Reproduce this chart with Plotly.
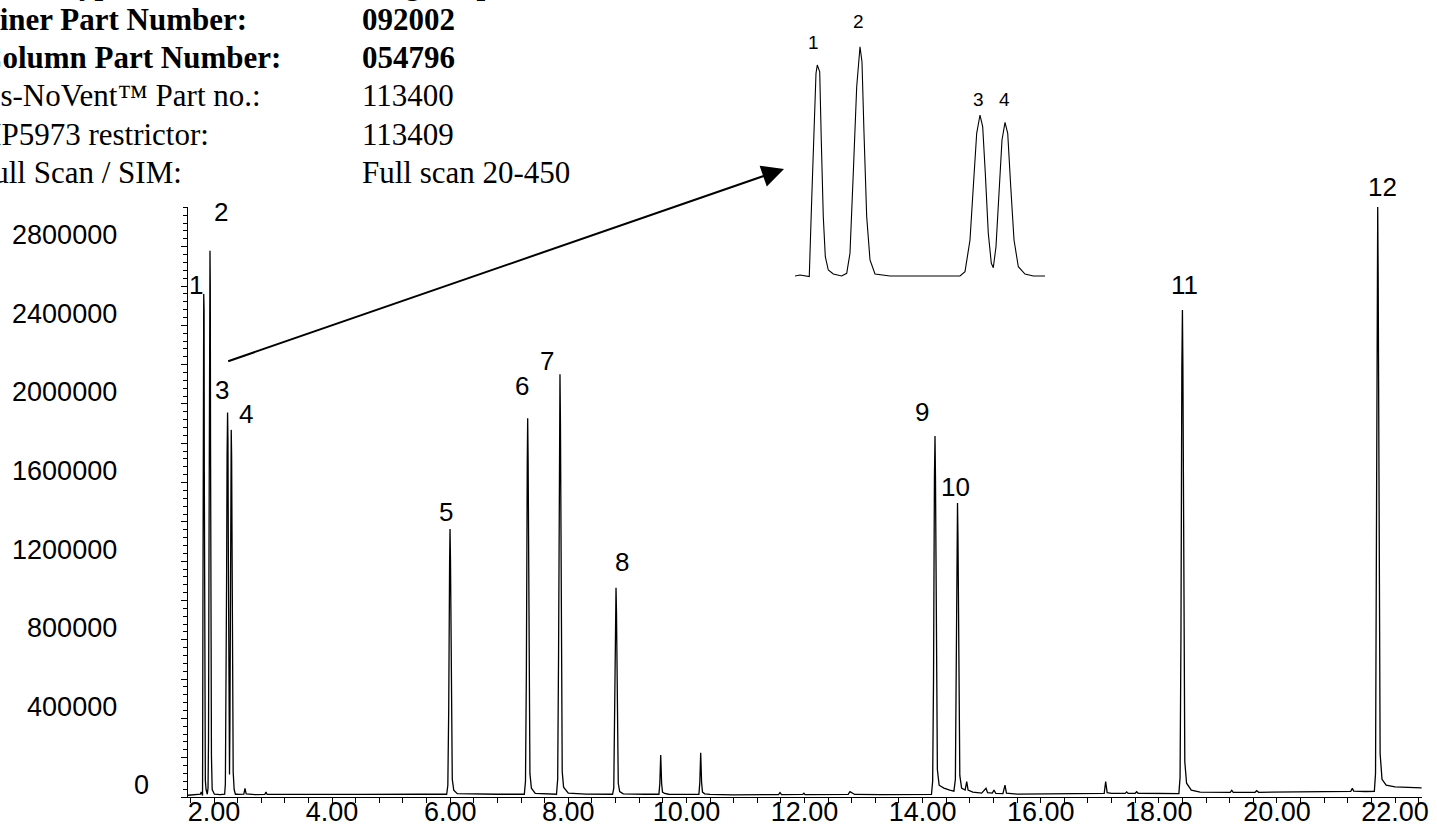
import plotly.graph_objects as go

W, H = 1437, 824

# ---------------- chromatogram (retention time [min], abundance) ----------------
rt = [1.56, 1.62, 1.68, 1.72, 1.7707, 1.7831, 1.795, 1.8061, 1.8121, 1.8178, 1.8228, 1.826,
      1.832, 1.8359, 1.8409, 1.8459, 1.8533, 1.8657, 1.8865, 1.899, 1.9071, 1.9153, 1.9238,
      1.932, 1.9369, 1.9419, 1.9486, 1.9568, 1.9692, 2.0064, 2.1057, 2.1801, 2.1925, 2.2049,
      2.2131, 2.2215, 2.2297, 2.2364, 2.2429, 2.2503, 2.2578, 2.2627, 2.2694, 2.2769, 2.2843,
      2.2918, 2.2985, 2.306, 2.3141, 2.3248, 2.3414, 2.362, 2.391,
      2.42, 2.505, 2.525, 2.545, 2.70, 2.86, 2.88, 2.90, 3.5, 4.5, 5.5,
      5.94, 5.96, 5.975, 5.99, 5.997, 6.005, 6.02, 6.035, 6.06, 6.12,
      6.8, 7.255, 7.275, 7.29, 7.305, 7.312, 7.32, 7.335, 7.35, 7.375, 7.44,
      7.80, 7.82, 7.835, 7.85, 7.859, 7.867, 7.882, 7.897, 7.92, 8.0, 8.3, 8.6,
      8.75, 8.77, 8.785, 8.80, 8.808, 8.816, 8.831, 8.846, 8.87, 8.93, 9.3,
      9.535, 9.55, 9.565, 9.58, 9.595, 9.63, 9.7, 10.0,
      10.212, 10.227, 10.242, 10.257, 10.272, 10.31, 10.4, 10.8, 11.2,
      11.56, 11.585, 11.61, 11.97, 11.99, 12.01, 12.5, 12.74, 12.77, 12.80, 12.85, 13.3, 13.9,
      14.15, 14.17, 14.185, 14.20, 14.21, 14.218, 14.233, 14.25, 14.28, 14.36, 14.46, 14.53,
      14.555, 14.568, 14.582, 14.591, 14.599, 14.614, 14.63, 14.66, 14.72, 14.747, 14.77,
      14.85, 15.0, 15.074, 15.1, 15.18, 15.209, 15.24, 15.36, 15.395, 15.42, 15.6, 16.0,
      16.5, 17.0, 17.075, 17.1, 17.125, 17.2, 17.43, 17.456, 17.48, 17.6, 17.625, 17.65,
      18.0, 18.34, 18.36, 18.375, 18.39, 18.40, 18.408, 18.423, 18.44, 18.47, 18.55, 18.7,
      19.0, 19.21, 19.235, 19.26, 19.63, 19.658, 19.69, 20.2, 20.8, 21.25, 21.277, 21.3,
      21.5, 21.65, 21.67, 21.683, 21.697, 21.707, 21.715, 21.73, 21.748, 21.78, 21.85,
      22.0, 22.2, 22.45]

abund = [9000, 11000, 10000, 12000, 14000, 26000, 20000, 8000, 930800, 1815000, 2459000, 2559000,
         2478000, 1655000, 729000, 247000, 86000, 38000, 14000, 46600, 288000, 1253000, 2298000,
         2780000, 2599000, 1739000, 729000, 207000, 38000, 14000, 12000, 14000, 66000, 448000,
         1091000, 1735000, 1956000, 1815000, 1253000, 529000, 167000, 114000, 367000, 1091000, 1655000,
         1868000, 1735000, 1091000, 448000, 126000, 38000, 14000, 14000,
         13000, 15000, 44000, 16000, 12000, 13000, 25000, 13000, 12000, 13000, 14000,
         14000, 60000, 450000, 1200000, 1364000, 1200000, 450000, 90000, 35000, 17000,
         14000, 14000, 80000, 640000, 1700000, 1927000, 1700000, 640000, 120000, 45000, 18000,
         14000, 90000, 720000, 1900000, 2151000, 1900000, 720000, 130000, 50000, 20000, 15000, 14000,
         14000, 45000, 360000, 940000, 1065000, 940000, 360000, 70000, 28000, 16000, 14000,
         14000, 70000, 214000, 70000, 25000, 18000, 14000, 13000,
         14000, 75000, 225000, 75000, 25000, 16000, 13000, 11000, 12000,
         12000, 22000, 12000, 13000, 19000, 12000, 12000, 13000, 27000, 20000, 13000, 12000, 12000,
         13000, 80000, 600000, 1620000, 1837000, 1620000, 600000, 140000, 60000, 45000, 35000, 30000,
         90000, 500000, 1320000, 1496000, 1320000, 500000, 110000, 45000, 35000, 78000, 35000,
         25000, 20000, 44000, 22000, 20000, 35000, 18000, 17000, 60000, 20000, 15000, 15000,
         16000, 16000, 18000, 78000, 22000, 18000, 18000, 26000, 18000, 19000, 27000, 19000,
         17000, 17000, 100000, 820000, 2180000, 2478000, 2180000, 820000, 180000, 70000, 35000, 25000,
         23000, 24000, 34000, 24000, 24000, 32000, 24000, 25000, 27000, 29000, 44000, 30000,
         28000, 29000, 120000, 990000, 2640000, 3002000, 2640000, 990000, 220000, 90000, 60000,
         52000, 48000, 46000]

# numbered peaks: apex retention time and abundance
peak_ids = ["1", "2", "3", "4", "5", "6", "7", "8", "9", "10", "11", "12"]
peak_rt = [1.826, 1.932, 2.2297, 2.2918, 5.997, 7.312, 7.859, 8.808, 14.21, 14.591, 18.40, 21.707]
peak_top = [2559000, 2780000, 1956000, 1868000, 1364000, 1927000, 2151000, 1065000,
            1837000, 1496000, 2478000, 3002000]
# label offsets from the apex (px, +dy = up)
label_dx = [-8, 11, -6, 15, -4, -6, -13, 6, -13, -2, 2, 5]
label_dy = [9, 39, 23, 16, 17, 32, 13, 26, 24, 16, 25, 20]

# inset labels (offsets from apex, px)
inset_dx = [-4, -2, -1, -1]
inset_dy = [23, 25, 16, 23]

# axes
x_range = [1.5546, 22.457]
y_range = [0, 3003600]
inset_x_range = [1.7707, 2.3910]
inset_y_range = [-34252, 3222758]
y_tick_vals = [0, 200000, 400000, 600000, 800000, 1000000, 1200000, 1400000, 1600000,
               1800000, 2000000, 2200000, 2400000, 2600000, 2800000]
y_tick_text = ["", "", "400000", "", "800000", "", "1200000", "", "1600000", "",
               "2000000", "", "2400000", "", "2800000"]
y_zero_label = "0"

# header table
header_labels = ["Liner Type:", "Liner Part Number:", "Column Part Number:",
                 "Press-NoVent™ Part no.:", "HP5973 restrictor:", "Full Scan / SIM:"]
header_values = ["Single taper", "092002", "054796", "113400", "113409", "Full scan 20-450"]
header_bold = [True, True, True, False, False, False]
header_label_right_px = [138, 249, 283, 263, 211, 184]
header_row_center_px = [-17, 20, 58, 96, 134.5, 173]
header_value_left_px = 359.6

SANS = "Liberation Sans, Arial, sans-serif"
SERIF = "Liberation Serif, Times New Roman, serif"

fig = go.Figure()
fig.add_trace(go.Scatter(x=rt, y=abund, mode="lines", line=dict(color="black", width=1.3),
                         xaxis="x", yaxis="y", hoverinfo="skip"))
fig.add_trace(go.Scatter(x=rt, y=abund, mode="lines", line=dict(color="black", width=1.1),
                         xaxis="x2", yaxis="y2", hoverinfo="skip"))

annotations = []
for lab, t, a, dx, dy in zip(peak_ids, peak_rt, peak_top, label_dx, label_dy):
    annotations.append(dict(x=t, y=a, xref="x", yref="y", text=lab, showarrow=False,
                            xanchor="center", yanchor="middle", xshift=dx, yshift=dy,
                            font=dict(family=SANS, size=26, color="black")))
for lab, t, a, dx, dy in zip(peak_ids[:4], peak_rt[:4], peak_top[:4], inset_dx, inset_dy):
    annotations.append(dict(x=t, y=a, xref="x2", yref="y2", text=lab, showarrow=False,
                            xanchor="center", yanchor="middle", xshift=dx, yshift=dy,
                            font=dict(family=SANS, size=19, color="black")))
for lab, val, b, rx, cy in zip(header_labels, header_values, header_bold,
                               header_label_right_px, header_row_center_px):
    lt = f"<b>{lab}</b>" if b else lab
    vt = f"<b>{val}</b>" if b else val
    annotations.append(dict(x=rx / W, y=1 - cy / H, xref="paper", yref="paper", text=lt,
                            showarrow=False, xanchor="right", yanchor="middle",
                            font=dict(family=SERIF, size=31, color="black")))
    annotations.append(dict(x=header_value_left_px / W, y=1 - cy / H, xref="paper", yref="paper",
                            text=vt, showarrow=False, xanchor="left", yanchor="middle",
                            font=dict(family=SERIF, size=31, color="black")))

# the "0" tick label sits further right in the reference
annotations.append(dict(x=141 / W, y=y_tick_vals[0], xref="paper", yref="y", text=y_zero_label,
                        showarrow=False, xanchor="center", yanchor="middle", yshift=12,
                        font=dict(family=SANS, size=27, color="black")))

# arrow from peak cluster to inset
tip = (784, 169)
tail = (226.7, 361.7)
annotations.append(dict(x=tip[0] / W, y=1 - tip[1] / H, xref="paper", yref="paper",
                        ax=tail[0] - tip[0], ay=tail[1] - tip[1], axref="pixel", ayref="pixel",
                        text="", showarrow=True, arrowhead=2, arrowsize=2.2, arrowwidth=2,
                        arrowcolor="black"))

fig.update_layout(
    width=W, height=H, template="none",
    margin=dict(l=0, r=0, t=0, b=0, pad=0),
    paper_bgcolor="white", plot_bgcolor="rgba(0,0,0,0)",
    showlegend=False,
    xaxis=dict(domain=[187.7 / W, 1422 / W], range=x_range, anchor="y",
               showline=True, linecolor="black", linewidth=1.2, mirror=False,
               showgrid=False, zeroline=False, automargin=False,
               tickmode="linear", tick0=2, dtick=2, tickformat=".2f",
               ticks="outside", ticklen=5, tickcolor="black", tickwidth=1,
               minor=dict(dtick=0.4, tick0=2, ticks="outside", ticklen=5, tickcolor="black", showgrid=False),
               tickfont=dict(family=SANS, size=27, color="black"), ticklabelstandoff=-15),
    yaxis=dict(domain=[27 / H, (H - 206.7) / H], range=y_range, anchor="x",
               showline=True, linecolor="black", linewidth=1.2, mirror=False,
               showgrid=False, zeroline=False, automargin=False,
               tickmode="array", tickvals=y_tick_vals, ticktext=y_tick_text,
               ticks="outside", ticklen=6, tickcolor="black", tickwidth=1,
               minor=dict(dtick=40000, tick0=0, ticks="outside", ticklen=4, tickcolor="black", showgrid=False),
               tickfont=dict(family=SANS, size=27, color="black"),
               ticklabelstandoff=58, ticklabelshift=-12),
    xaxis2=dict(domain=[795 / W, 1045 / W], range=inset_x_range, anchor="y2",
                visible=False, showgrid=False, zeroline=False),
    yaxis2=dict(domain=[(H - 280) / H, (H - 10) / H], range=inset_y_range, anchor="x2",
                visible=False, showgrid=False, zeroline=False),
    annotations=annotations,
)

fig.write_html("out.html", config={"displayModeBar": False},
               post_script="document.body.style.margin='0';document.body.style.overflow='hidden';")
